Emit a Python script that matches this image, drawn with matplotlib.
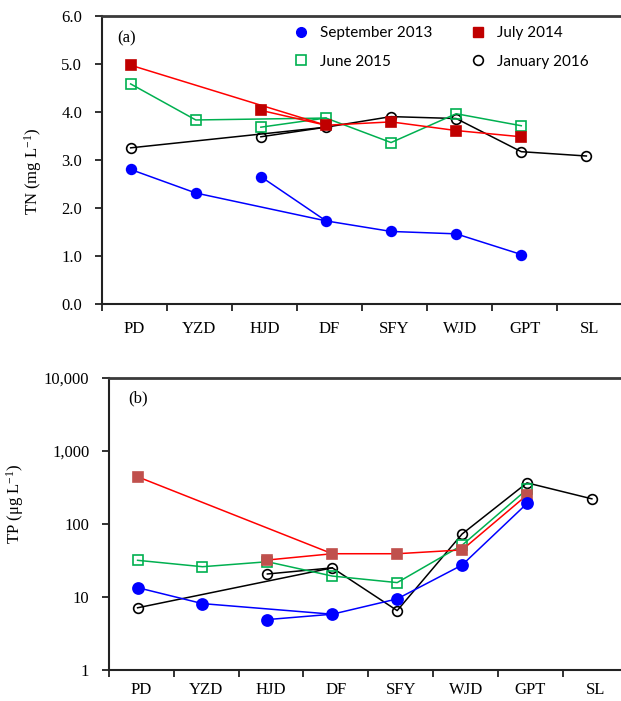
import numpy as np
import matplotlib
matplotlib.use("Agg")
import matplotlib.pyplot as plt
from matplotlib.lines import Line2D
from matplotlib.ticker import FixedLocator, FuncFormatter, NullLocator

plt.rcParams["font.family"] = ["Liberation Serif", "DejaVu Serif"]
plt.rcParams["mathtext.fontset"] = "custom"
plt.rcParams["mathtext.rm"] = "Liberation Serif"
plt.rcParams["mathtext.it"] = "Liberation Serif:italic"

# Sampling sites along the river (HJD is a tributary joining at DF)
sites = ["PD", "YZD", "HJD", "DF", "SFY", "WJD", "GPT", "SL"]
main_stem = ["PD", "YZD", "DF", "SFY", "WJD", "GPT", "SL"]
tributary = ["HJD", "DF"]
through_hjd = ["PD", "YZD", "HJD", "DF", "SFY", "WJD", "GPT", "SL"]
nan = np.nan

# Total nitrogen (mg L-1)
tn_sep2013 = [2.80, 2.31, 2.65, 1.73, 1.51, 1.46, 1.03, nan]
tn_jul2014 = [4.97, nan, 4.03, 3.72, 3.79, 3.61, 3.48, nan]
tn_jun2015 = [4.58, 3.83, 3.68, 3.87, 3.36, 3.96, 3.71, nan]
tn_jan2016 = [3.25, nan, 3.48, 3.68, 3.90, 3.86, 3.17, 3.08]

# Total phosphorus (ug L-1)
tp_sep2013 = [13.4, 8.1, 4.9, 5.8, 9.4, 27.3, 190, nan]
tp_jul2014 = [441, nan, 32, 39, 39, 44, 248, nan]
tp_jun2015 = [31.7, 25.9, 30.3, 19.3, 15.7, 51, 296, nan]
tp_jan2016 = [7.1, nan, 20.6, 25, 6.5, 72.6, 364, 220]

legend_labels = ["September 2013", "June 2015", "July 2014", "January 2016"]

BLUE = "#0000ff"
RED = "#ff0000"
GREEN = "#00b050"
BLACK = "#000000"

W, H = 621, 701
fig = plt.figure(figsize=(W / 100, H / 100), dpi=100)

ax1 = fig.add_axes([101.7 / W, 1 - 304 / H, 520.8 / W, (304 - 15.7) / H])
ax2 = fig.add_axes([108.7 / W, 1 - 670 / H, 519.2 / W, (670 - 377.7) / H])

xpos = np.arange(len(sites)) + 0.445


def draw_series(ax, values, line_color, marker, mfc, mec, ms, z,
                paths=(main_stem, tributary)):
    vals = np.array(values, dtype=float)
    for path in paths:
        idx = [sites.index(s) for s in path if not np.isnan(vals[sites.index(s)])]
        ax.plot(xpos[idx], vals[idx], color=line_color, lw=1.1, zorder=z)
    ok = ~np.isnan(vals)
    ax.plot(xpos[ok], vals[ok], ls="none", marker=marker, ms=ms,
            mfc=mfc, mec=mec, mew=1.2, zorder=z + 0.5)


def style_axes(ax, xpad):
    ax.set_xlim(0, 8)
    ax.xaxis.set_major_locator(FixedLocator(np.arange(0, 9)))
    ax.xaxis.set_major_formatter(FuncFormatter(lambda v, p: ""))
    ax.set_xticks(np.arange(len(sites)) + 0.5, minor=True)
    ax.set_xticklabels(sites, minor=True)
    ax.tick_params(axis="x", which="major", direction="out", length=5,
                   width=1.3, color="#222222")
    ax.tick_params(axis="x", which="minor", length=0, pad=xpad, labelsize=12)
    ax.tick_params(axis="y", which="major", direction="out", length=5,
                   width=1.3, pad=9, labelsize=12, color="#222222")
    ax.tick_params(axis="y", which="minor", length=0)
    ax.spines["right"].set_visible(False)
    for s in ("left", "bottom"):
        ax.spines[s].set_linewidth(1.5)
        ax.spines[s].set_color("#222222")
    ax.spines["top"].set_linewidth(2.0)
    ax.spines["top"].set_color("#3a3a3a")


# Panel (a): TN
draw_series(ax1, tn_jan2016, BLACK, "o", "none", BLACK, 7, 2)
draw_series(ax1, tn_jun2015, GREEN, "s", "none", GREEN, 7.5, 3)
draw_series(ax1, tn_jul2014, RED, "s", "#c00000", "#c00000", 7, 4)
draw_series(ax1, tn_sep2013, BLUE, "o", BLUE, BLUE, 7, 5)
style_axes(ax1, 12)
ax1.set_ylim(0, 6)
ax1.set_yticks(np.arange(0, 6.01, 1.0))
ax1.yaxis.set_major_formatter(FuncFormatter(lambda v, p: f"{v:.1f}"))
ax1.set_ylabel("TN (mg L$^{-1}$)", fontsize=12)
ax1.yaxis.set_label_coords(-0.111, 0.46)
ax1.text(0.029, 0.921, "(a)", transform=ax1.transAxes, fontsize=12,
         ha="left", va="center")

# Panel (b): TP, log scale
draw_series(ax2, tp_jan2016, BLACK, "o", "none", BLACK, 7, 2)
draw_series(ax2, tp_jun2015, GREEN, "s", "none", GREEN, 7.5, 3,
            paths=(through_hjd,))
draw_series(ax2, tp_jul2014, RED, "s", "#c0504d", "#c0504d", 7, 4)
draw_series(ax2, tp_sep2013, BLUE, "o", BLUE, BLUE, 8, 5)
ax2.set_yscale("log")
style_axes(ax2, 9)
ax2.set_ylim(1, 10000)
ax2.yaxis.set_major_locator(FixedLocator([1, 10, 100, 1000, 10000]))
ax2.yaxis.set_minor_locator(NullLocator())
ax2.yaxis.set_major_formatter(FuncFormatter(lambda v, p: f"{int(round(v)):,}"))
ax2.set_ylabel("TP (\u03bcg L$^{-1}$)", fontsize=12)
ax2.yaxis.set_label_coords(-0.159, 0.57)
ax2.text(0.038, 0.93, "(b)", transform=ax2.transAxes, fontsize=12,
         ha="left", va="center")

# Legend (marker-only entries, two columns)
handles = [
    Line2D([], [], ls="none", marker="o", ms=7, mfc=BLUE, mec=BLUE),
    Line2D([], [], ls="none", marker="s", ms=7.5, mfc="none", mec=GREEN, mew=1.2),
    Line2D([], [], ls="none", marker="s", ms=7, mfc="#c00000", mec="#c00000"),
    Line2D([], [], ls="none", marker="o", ms=7, mfc="none", mec=BLACK, mew=1.2),
]
fig.legend(handles, legend_labels, ncol=2, loc="upper left",
           bbox_to_anchor=(293.4 / W, 1 - 26 / H), frameon=False,
           borderpad=0, borderaxespad=0, handlelength=1.0,
           handletextpad=0.75, columnspacing=2.5, labelspacing=0.95,
           prop={"family": "Lato", "size": 11})

fig.savefig("out.png", dpi=100)
